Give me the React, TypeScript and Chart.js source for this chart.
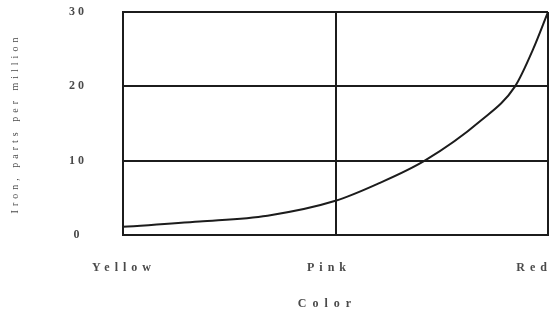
import React, { useEffect, useRef } from 'react';
import { Chart, registerables } from 'chart.js';

Chart.register(...registerables);

// Categories along the x axis and their positions
const colorCategories = ['Yellow', 'Pink', 'Red'];
const categoryPositions = [0, 1, 2];

// Curve (position along the colour axis, iron ppm)
const curveX = [0, 0.36, 0.68, 1.0, 1.2, 1.42, 1.68, 1.845, 1.93, 2.0];
const ironPpm = [1.1, 1.8, 2.6, 4.6, 6.9, 10, 15.3, 20, 25, 30];

// Y tick values
const yTicks = [0, 10, 20, 30];

const FONT = '"Liberation Serif", "Times New Roman", serif';
const TEXT = '#4a4a4a';
const LINE = '#1c1c1c';

const spacing: Record<string, { labels: string; title: string; titleShift: number }> = {
  y: { labels: '3px', title: '4px', titleShift: 0 },
  xl: { labels: '5px', title: '6px', titleShift: -8 },
};

const letterSpacingPlugin = {
  id: 'letterSpacingPatch',
  afterLayout(chart: any) {
    for (const id of Object.keys(spacing)) {
      const s = chart.scales[id];
      if (!s || s.__patched) continue;
      s.__patched = true;
      const origLabels = s.drawLabels.bind(s);
      const origTitle = s.drawTitle.bind(s);
      s.drawLabels = (ca: any) => {
        const ctx = chart.ctx;
        ctx.letterSpacing = spacing[id].labels;
        origLabels(ca);
        ctx.letterSpacing = '0px';
      };
      s.drawTitle = (ca: any) => {
        const ctx = chart.ctx;
        ctx.save();
        ctx.translate(spacing[id].titleShift, 0);
        ctx.letterSpacing = spacing[id].title;
        origTitle(ca);
        ctx.letterSpacing = '0px';
        ctx.restore();
      };
    }
  },
};

export default function App() {
  const ref = useRef<HTMLCanvasElement | null>(null);

  useEffect(() => {
    if (!ref.current) return;
    const chart = new Chart(ref.current, {
      type: 'line',
      data: {
        datasets: [
          {
            data: curveX.map((x, i) => ({ x, y: ironPpm[i] })),
            xAxisID: 'x',
            yAxisID: 'y',
            borderColor: LINE,
            borderWidth: 2,
            pointRadius: 0,
            tension: 0.4,
            cubicInterpolationMode: 'monotone',
            fill: false,
          } as any,
        ],
      },
      plugins: [letterSpacingPlugin],
      options: {
        animation: false,
        responsive: false,
        devicePixelRatio: 1,
        layout: { padding: { top: 12, right: 17, left: 0, bottom: 0 } },
        plugins: { legend: { display: false }, tooltip: { enabled: false } },
        scales: {
          x: {
            type: 'linear',
            position: 'bottom',
            min: 0,
            max: 2,
            afterBuildTicks: (s: any) => {
              s.ticks = categoryPositions.map((v) => ({ value: v }));
            },
            ticks: { display: false },
            grid: { color: LINE, lineWidth: 2, drawTicks: false },
            border: { display: true, color: LINE, width: 2 },
            afterFit: (s: any) => {
              s.height = 0;
              s.paddingLeft = 0;
              s.paddingRight = 0;
            },
          },
          xl: {
            type: 'linear',
            position: 'bottom',
            min: -0.005,
            max: 2.068,
            afterBuildTicks: (s: any) => {
              s.ticks = categoryPositions.map((v) => ({ value: v }));
            },
            ticks: {
              callback: (v: any) => {
                const i = categoryPositions.indexOf(Number(v));
                return i >= 0 ? colorCategories[i] : '';
              },
              font: { family: FONT, size: 12, weight: 'bold' },
              color: TEXT,
              padding: 26,
              maxRotation: 0,
              minRotation: 0,
              autoSkip: false,
            },
            grid: { display: false, drawTicks: false },
            border: { display: false },
            title: {
              display: true,
              text: 'Color',
              font: { family: FONT, size: 12, weight: 'bold' },
              color: TEXT,
              padding: { top: 0, bottom: 3 },
            },
            afterFit: (s: any) => {
              s.height = 79;
              s.paddingLeft = 0;
              s.paddingRight = 0;
            },
          } as any,
          y: {
            type: 'linear',
            min: 0,
            max: 30,
            afterBuildTicks: (s: any) => {
              s.ticks = yTicks.map((v) => ({ value: v }));
            },
            ticks: {
              crossAlign: 'center',
              padding: 39,
              font: { family: FONT, size: 12, weight: 'bold' },
              color: TEXT,
            },
            grid: { color: LINE, lineWidth: 2, drawTicks: false },
            border: { display: true, color: LINE, width: 2 },
            title: {
              display: true,
              text: 'Iron, parts per million',
              font: { family: FONT, size: 10 },
              color: TEXT,
              padding: { top: 9, bottom: 0 },
            },
            afterFit: (s: any) => {
              s.width = 123;
              s.paddingTop = 0;
              s.paddingBottom = 0;
            },
          },
        },
      } as any,
    });
    return () => chart.destroy();
  }, []);

  return (
    <div
      style={{
        position: 'fixed',
        left: 0,
        top: 0,
        width: 549,
        height: 314,
        overflow: 'hidden',
        background: '#fff',
      }}
    >
      <canvas
        ref={ref}
        width={565}
        height={314}
        style={{ display: 'block', width: 565, height: 314 }}
      />
    </div>
  );
}
